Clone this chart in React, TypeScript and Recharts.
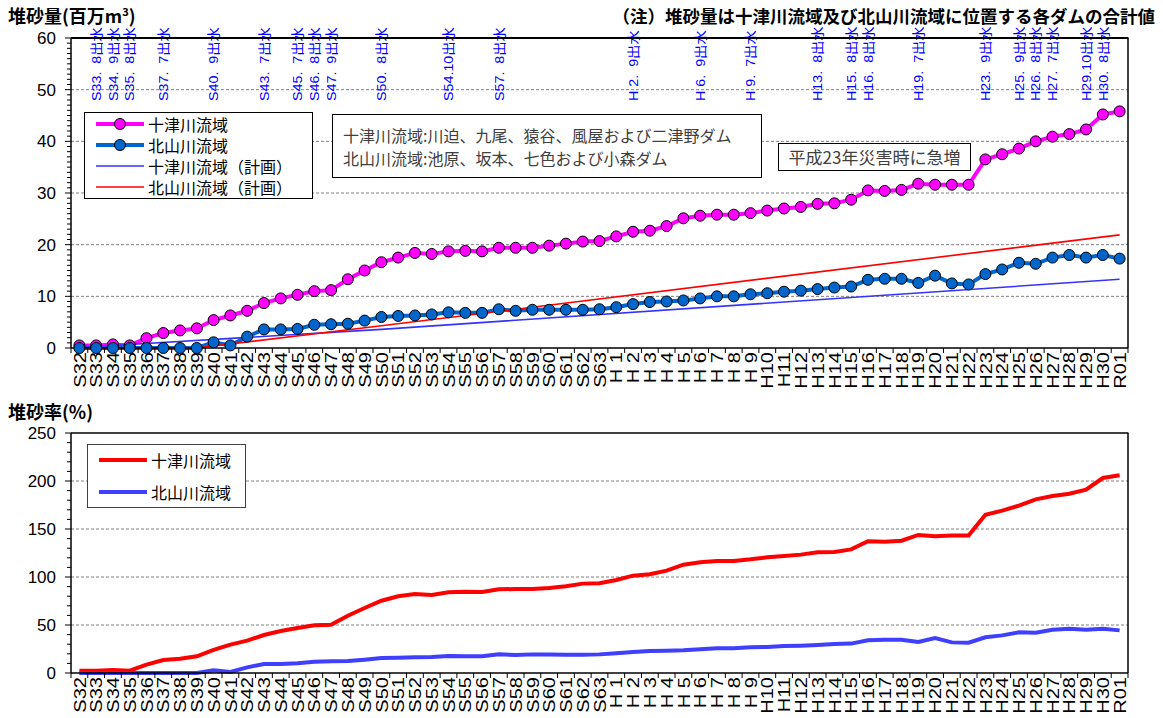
import React from "react";
import { LineChart, Line, XAxis, YAxis, ReferenceLine } from "recharts";

const categories = [
  "S32", "S33", "S34", "S35", "S36", "S37", "S38", "S39", "S40", "S41",
  "S42", "S43", "S44", "S45", "S46", "S47", "S48", "S49", "S50", "S51",
  "S52", "S53", "S54", "S55", "S56", "S57", "S58", "S59", "S60", "S61",
  "S62", "S63", "H 1", "H 2", "H 3", "H 4", "H 5", "H 6", "H 7", "H 8",
  "H 9", "H10", "H11", "H12", "H13", "H14", "H15", "H16", "H17", "H18",
  "H19", "H20", "H21", "H22", "H23", "H24", "H25", "H26", "H27", "H28",
  "H29", "H30", "R01",
];

// 堆砂量 (百万m3)
const totsuVolume = [
  0.5, 0.5, 0.7, 0.5, 1.9, 2.9, 3.4, 3.8,
  5.4, 6.3, 7.2, 8.7, 9.6, 10.3, 11.0, 11.2, 13.3, 15.0,
  16.6, 17.5, 18.4, 18.2, 18.7, 18.8, 18.7, 19.4, 19.4, 19.4,
  19.8, 20.2, 20.6, 20.7,
  21.6, 22.5, 22.7, 23.6, 25.1, 25.6, 25.8, 25.8, 26.1,
  26.6, 27.0, 27.3, 27.9, 28.0, 28.7, 30.5, 30.4, 30.6, 31.8,
  31.6, 31.6, 31.6, 36.5, 37.5, 38.6, 40.0, 40.9, 41.4, 42.3,
  45.2, 45.8,
];
const kitaVolume = [
  0, 0, 0, 0, 0, 0, 0, 0,
  1.1, 0.5, 2.2, 3.6, 3.6, 3.7, 4.5, 4.6, 4.7, 5.3,
  6.0, 6.2, 6.3, 6.5, 6.9, 6.8, 6.8, 7.5, 7.2, 7.4,
  7.4, 7.4, 7.4, 7.5,
  7.9, 8.5, 8.9, 9.0, 9.2, 9.6, 10.0, 10.0, 10.4,
  10.6, 10.9, 11.1, 11.4, 11.7, 11.9, 13.2, 13.4, 13.4, 12.6,
  14.0, 12.5, 12.3, 14.3, 15.2, 16.5, 16.3, 17.5, 18.0, 17.5,
  18.0, 17.3,
];

// 計画堆砂量: straight segments between these read points
const totsuPlanCats = ["S32", "S50", "R01"];
const totsuPlanValues = [0.1, 3.6, 13.3];
const kitaPlanCats = ["S32", "S39", "S50", "R01"];
const kitaPlanValues = [0, 0, 4.3, 21.9];

// 堆砂率 (%)
const totsuRate = [
  2.4, 2.4, 3.1, 2.4, 8.7, 13.5, 14.9, 17.4,
  24.0, 29.5, 33.7, 39.6, 43.8, 46.9, 49.7, 50.3, 59.7, 67.7,
  75.3, 79.9, 82.3, 81.2, 84.0, 84.7, 84.4, 87.2, 87.5, 87.5,
  88.5, 90.3, 93.1, 93.4,
  96.9, 101.4, 102.8, 106.6, 112.8, 115.3, 116.7, 116.7, 118.4,
  120.5, 121.9, 123.3, 125.7, 126.0, 128.8, 137.2, 136.8, 137.8, 143.8,
  142.4, 143.1, 143.1, 164.9, 169.1, 174.3, 180.9, 184.4, 186.8, 191.0,
  203.1, 205.9,
];
const kitaRate = [
  0, 0, 0, 0, 0, 0, 0, 0,
  2.8, 1.0, 5.9, 9.4, 9.4, 10.1, 11.8, 12.2, 12.5, 13.9,
  15.6, 16.0, 16.3, 16.7, 17.7, 17.4, 17.4, 19.4, 18.7, 19.4,
  19.4, 19.1, 19.1, 19.4,
  20.5, 21.9, 22.9, 23.3, 23.6, 24.7, 25.7, 25.7, 26.7,
  27.1, 28.1, 28.5, 29.2, 30.2, 30.6, 34.0, 34.7, 34.7, 32.3,
  36.5, 31.9, 31.6, 37.2, 39.2, 42.4, 42.0, 45.1, 46.2, 45.1,
  46.2, 44.4,
];

// 出水 events (year, month)
const floodYears = [
  "S33", "S34", "S35", "S37", "S40", "S43", "S45", "S46", "S47", "S50",
  "S54", "S57", "H 2", "H 6", "H 9", "H13", "H15", "H16", "H19", "H23",
  "H25", "H26", "H27", "H29", "H30",
];
const floodMonths = [8, 9, 8, 7, 9, 7, 7, 8, 9, 8, 10, 8, 9, 9, 7, 8, 8, 8, 7, 9, 9, 8, 7, 10, 8];

const PLOT_L = 71;
const PLOT_R = 1128;
const BAND = (PLOT_R - PLOT_L) / categories.length;
const NUM_FONT = "'Liberation Sans', Arial, sans-serif";
const JP_FONT = "'Noto Sans CJK JP', sans-serif";

const volumeData = categories.map((cat, i) => {
  const tp = totsuPlanCats.indexOf(cat);
  const kp = kitaPlanCats.indexOf(cat);
  return {
    cat,
    totsu: totsuVolume[i],
    kita: kitaVolume[i],
    totsuPlan: tp >= 0 ? totsuPlanValues[tp] : null,
    kitaPlan: kp >= 0 ? kitaPlanValues[kp] : null,
  };
});

const rateData = categories.map((cat, i) => ({
  cat,
  totsu: totsuRate[i],
  kita: kitaRate[i],
}));

const floodText: Record<string, string> = {};
floodYears.forEach((y, i) => {
  floodText[y] = `${y}.${String(floodMonths[i]).padStart(2, "\u2007")}出水`;
});

function makeXTick(showFloods: boolean) {
  return function XTick(props: any) {
    const { x, y, payload } = props;
    const cat = payload.value as string;
    const isLast = cat === categories[categories.length - 1];
    const half = BAND / 2;
    const ev = showFloods ? floodText[cat] : undefined;
    return (
      <g>
        <line x1={x - half} x2={x - half} y1={y} y2={y + 5} stroke="#000" />
        {isLast && <line x1={x + half} x2={x + half} y1={y} y2={y + 5} stroke="#000" />}
        <text
          transform={`translate(${x},${y + 4}) rotate(-90) scale(1.18,1)`}
          textAnchor="end"
          dy="0.36em"
          fontSize={17}
          fontFamily={NUM_FONT}
          fill="#000"
        >
          {cat}
        </text>
        {ev && (
          <text
            transform={`translate(${x},101) rotate(-90) scale(1.1,1)`}
            textAnchor="start"
            dy="0.36em"
            fontSize={13}
            fontFamily={`'Liberation Sans', 'Noto Sans CJK JP', sans-serif`}
            fill="#0000FF"
          >
            {ev}
          </text>
        )}
      </g>
    );
  };
}

function makeYTick(step: number) {
  return function YTick(props: any) {
    const { x, y, payload } = props;
    const v = payload.value as number;
    const major = v % step === 0;
    return (
      <g>
        <line x1={x - (major ? 6 : 4)} x2={x} y1={y} y2={y} stroke="#000" />
        {major && (
          <text x={x - 15} y={y} dy="0.36em" textAnchor="end" fontSize={17} fontFamily={NUM_FONT} fill="#000">
            {v}
          </text>
        )}
      </g>
    );
  };
}

const topTicks = Array.from({ length: 61 }, (_, i) => i);
const bottomTicks = Array.from({ length: 26 }, (_, i) => i * 10);

function LegendSwatch({ color, width, marker }: { color: string; width: number; marker?: boolean }) {
  return (
    <svg width={50} height={14} style={{ display: "block" }}>
      <line x1={1} x2={49} y1={7} y2={7} stroke={color} strokeWidth={width} />
      {marker && <circle cx={25} cy={7} r={5.5} fill={color} stroke="#000" strokeWidth={1} />}
    </svg>
  );
}

function LegendRow({ color, width, marker, label, top }: any) {
  return (
    <div style={{ position: "absolute", left: 10, top, display: "flex", alignItems: "center", height: 20 }}>
      <LegendSwatch color={color} width={width} marker={marker} />
      <span style={{ marginLeft: 3, fontSize: 16, lineHeight: "20px", fontFamily: JP_FONT, color: "#000", whiteSpace: "nowrap" }}>
        {label}
      </span>
    </div>
  );
}

export default function App() {
  return (
    <div style={{ position: "absolute", left: 0, top: 0, width: 1163, height: 718, background: "#fff" }}>
      {/* titles */}
      <div style={{ position: "absolute", left: 8, top: 4, fontSize: 18, fontWeight: 700, fontFamily: JP_FONT, lineHeight: "22px" }}>
        堆砂量(百万m<sup style={{ fontSize: 11, lineHeight: 0 }}>3</sup>)
      </div>
      <div style={{ position: "absolute", right: 8, top: 5, fontSize: 17.5, fontWeight: 700, fontFamily: JP_FONT, lineHeight: "22px" }}>
        （注）堆砂量は十津川流域及び北山川流域に位置する各ダムの合計値
      </div>
      <div style={{ position: "absolute", left: 8, top: 400, fontSize: 18, fontWeight: 700, fontFamily: JP_FONT, lineHeight: "22px" }}>
        堆砂率(%)
      </div>

      {/* 堆砂量 chart */}
      <div style={{ position: "absolute", left: 0, top: 0 }}>
        <LineChart width={1163} height={400} data={volumeData} margin={{ top: 38, right: 35, left: 12, bottom: 0 }}>
          {[10, 20, 30, 40, 50].map((v) => (
            <ReferenceLine key={v} y={v} stroke="#808080" strokeDasharray="3 2" />
          ))}
          <XAxis
            dataKey="cat"
            scale="band"
            interval={0}
            tickLine={false}
            tickSize={0}
            tickMargin={0}
            height={52}
            axisLine={{ stroke: "#000", strokeWidth: 1.5 }}
            tick={makeXTick(true)}
          />
          <YAxis
            domain={[0, 60]}
            ticks={topTicks}
            interval={0}
            width={59}
            tickLine={false}
            tickSize={0}
            tickMargin={0}
            axisLine={{ stroke: "#000", strokeWidth: 1.5 }}
            tick={makeYTick(10)}
          />
          <Line
            dataKey="totsu"
            name="十津川流域"
            stroke="#FF00FF"
            strokeWidth={4}
            dot={{ r: 5.5, fill: "#FF00FF", stroke: "#000", strokeWidth: 1 }}
            isAnimationActive={false}
          />
          <Line
            dataKey="kita"
            name="北山川流域"
            stroke="#0066CC"
            strokeWidth={4}
            dot={{ r: 5.5, fill: "#0066CC", stroke: "#000", strokeWidth: 1 }}
            isAnimationActive={false}
          />
          <Line dataKey="totsuPlan" name="十津川流域（計画）" stroke="#3333FF" strokeWidth={1.6} dot={false} connectNulls isAnimationActive={false} />
          <Line dataKey="kitaPlan" name="北山川流域（計画）" stroke="#FF0000" strokeWidth={1.6} dot={false} connectNulls isAnimationActive={false} />
        </LineChart>
      </div>

      {/* 堆砂率 chart */}
      <div style={{ position: "absolute", left: 0, top: 400 }}>
        <LineChart width={1163} height={318} data={rateData} margin={{ top: 33, right: 35, left: 12, bottom: 0 }}>
          {[50, 100, 150, 200].map((v) => (
            <ReferenceLine key={v} y={v} stroke="#808080" strokeDasharray="3 2" />
          ))}
          <XAxis
            dataKey="cat"
            scale="band"
            interval={0}
            tickLine={false}
            tickSize={0}
            tickMargin={0}
            height={45}
            axisLine={{ stroke: "#000", strokeWidth: 1.5 }}
            tick={makeXTick(false)}
          />
          <YAxis
            domain={[0, 250]}
            ticks={bottomTicks}
            interval={0}
            width={59}
            tickLine={false}
            tickSize={0}
            tickMargin={0}
            axisLine={{ stroke: "#000", strokeWidth: 1.5 }}
            tick={makeYTick(50)}
          />
          <Line dataKey="totsu" name="十津川流域" stroke="#FF0000" strokeWidth={4} dot={false} isAnimationActive={false} />
          <Line dataKey="kita" name="北山川流域" stroke="#3F3FFF" strokeWidth={4} dot={false} isAnimationActive={false} />
        </LineChart>
      </div>

      {/* plot frames */}
      <svg width={1163} height={718} style={{ position: "absolute", left: 0, top: 0, pointerEvents: "none" }}>
        <line x1={PLOT_L} x2={PLOT_R + 0.5} y1={38} y2={38} stroke="#000" strokeWidth={2} />
        <line x1={PLOT_R} x2={PLOT_R} y1={38} y2={348} stroke="#000" strokeWidth={1.5} />
        <line x1={PLOT_L} x2={PLOT_R + 0.5} y1={433} y2={433} stroke="#000" strokeWidth={1.5} />
        <line x1={PLOT_R} x2={PLOT_R} y1={433} y2={673} stroke="#000" strokeWidth={1.5} />
      </svg>

      {/* legend, 堆砂量 */}
      <div style={{ position: "absolute", left: 84, top: 112, width: 227, height: 85, border: "1px solid #000", background: "#fff" }}>
        <LegendRow top={1} color="#FF00FF" width={4} marker label="十津川流域" />
        <LegendRow top={22} color="#0066CC" width={4} marker label="北山川流域" />
        <LegendRow top={43} color="#3333FF" width={1.6} label="十津川流域（計画）" />
        <LegendRow top={64} color="#FF0000" width={1.6} label="北山川流域（計画）" />
      </div>

      {/* dam note */}
      <div
        style={{
          position: "absolute", left: 332, top: 114, width: 430, height: 64, border: "1px solid #000", background: "#fff",
          fontFamily: JP_FONT, fontSize: 16, color: "#404040", lineHeight: "23px", padding: "9px 0 0 10px", boxSizing: "border-box", whiteSpace: "nowrap",
        }}
      >
        <div>十津川流域:川迫、九尾、猿谷、風屋および二津野ダム</div>
        <div>北山川流域:池原、坂本、七色および小森ダム</div>
      </div>
      <div
        style={{
          position: "absolute", left: 778, top: 143, width: 193, height: 28, border: "1px solid #000", background: "#fff",
          fontFamily: JP_FONT, fontSize: 17, color: "#404040", lineHeight: "26px", textAlign: "center", boxSizing: "border-box", whiteSpace: "nowrap",
        }}
      >
        平成23年災害時に急増
      </div>

      {/* legend, 堆砂率 */}
      <div style={{ position: "absolute", left: 87, top: 444, width: 157, height: 62, border: "1px solid #404040", background: "#fff" }}>
        <LegendRow top={5} color="#FF0000" width={4} label="十津川流域" />
        <LegendRow top={37} color="#3F3FFF" width={4} label="北山川流域" />
      </div>
    </div>
  );
}
